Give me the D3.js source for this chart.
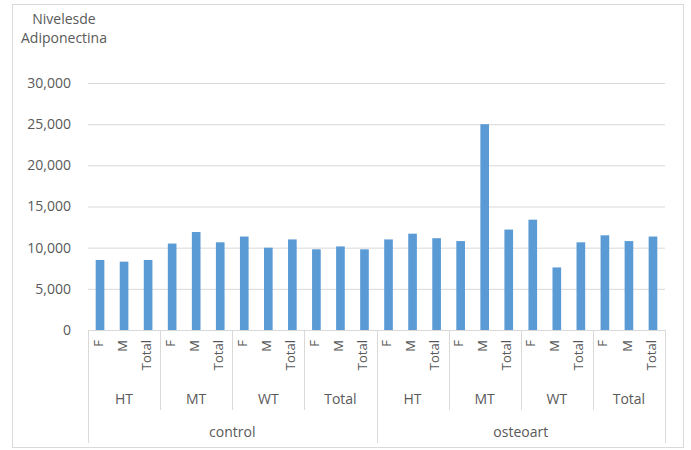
<!DOCTYPE html>
<html>
<head>
    <meta charset="UTF-8">
    <style>
        body { margin: 0; background: #fff; }
        text { font-family: "Open Sans", "Noto Sans", sans-serif; fill: #595959; }
    </style>
    <script src="https://d3js.org/d3.v7.min.js"></script>
</head>
<body>
    <svg id="chart" width="691" height="450"></svg>
    <script>
        // datos
        var grupos = ["control", "osteoart"];
        var tipos = ["HT", "MT", "WT", "Total"];
        var sexos = ["F", "M", "Total"];
        var valoresControl = [8500, 8300, 8500, 10500, 11900, 10650, 11350, 10000, 11000, 9800, 10150, 9800];
        var valoresOsteoart = [11000, 11700, 11150, 10800, 25000, 12200, 13400, 7600, 10650, 11500, 10800, 11350];
        var ticksY = [0, 5000, 10000, 15000, 20000, 25000, 30000];

        var data = [];
        grupos.forEach(function(g, gi) {
            var vals = gi == 0 ? valoresControl : valoresOsteoart;
            tipos.forEach(function(t, ti) {
                sexos.forEach(function(s, si) {
                    data.push({ grupo: g, tipo: t, sexo: s, key: g + "|" + t + "|" + s, valor: vals[ti * 3 + si] });
                });
            });
        });

        var svg = d3.select("#chart");
        var plotLeft = 88, plotRight = 665, plotTop = 83, plotBottom = 330;

        // borde del grafico
        svg.append("rect")
            .attr("x", 12.5).attr("y", 4.5)
            .attr("width", 671).attr("height", 443)
            .attr("fill", "#fff")
            .attr("stroke", "#d9d9d9");

        var x = d3.scaleBand().domain(data.map(function(d) { return d.key; }))
            .range([plotLeft, plotRight]).paddingInner(0.64).paddingOuter(0.32);
        var y = d3.scaleLinear().domain([0, 30000]).range([plotBottom, plotTop]);
        var step = x.step();

        // lineas de cuadricula
        svg.append("g")
            .attr("transform", "translate(" + plotLeft + ",0)")
            .call(d3.axisLeft(y).tickValues(ticksY).tickSize(-(plotRight - plotLeft)).tickFormat(""))
            .call(function(g) {
                g.select(".domain").remove();
                g.selectAll("line").attr("stroke", "#d9d9d9");
            });

        // etiquetas del eje Y
        svg.append("g").selectAll("text")
            .data(ticksY)
            .enter().append("text")
            .attr("x", 71)
            .attr("y", function(d) { return y(d); })
            .attr("dy", "0.35em")
            .attr("text-anchor", "end")
            .attr("font-size", "14px")
            .text(function(d) { return d3.format(",")(d); });

        // barras
        svg.append("g").selectAll("rect")
            .data(data)
            .enter().append("rect")
            .attr("x", function(d) { return x(d.key); })
            .attr("y", function(d) { return y(d.valor); })
            .attr("width", x.bandwidth())
            .attr("height", function(d) { return y(0) - y(d.valor); })
            .attr("fill", "#5b9bd5");

        // eje de categorias
        svg.append("line")
            .attr("x1", plotLeft).attr("x2", plotRight)
            .attr("y1", plotBottom + 0.5).attr("y2", plotBottom + 0.5)
            .attr("stroke", "#d9d9d9");

        // etiquetas F / M / Total
        svg.append("g").selectAll("text")
            .data(data)
            .enter().append("text")
            .attr("transform", function(d) {
                return "translate(" + (x(d.key) + x.bandwidth() / 2 - 2) + "," + (plotBottom + 10) + ") rotate(-90)";
            })
            .attr("dy", "0.35em")
            .attr("text-anchor", "end")
            .attr("font-size", "13px")
            .text(function(d) { return d.sexo; });

        // divisiones de tipo
        var tiposData = [];
        grupos.forEach(function(g) {
            tipos.forEach(function(t) { tiposData.push({ grupo: g, tipo: t, x0: x(g + "|" + t + "|F") - step * 0.32 }); });
        });
        svg.append("g").selectAll("line")
            .data(tiposData)
            .enter().append("line")
            .attr("x1", function(d) { return Math.round(d.x0) + 0.5; })
            .attr("x2", function(d) { return Math.round(d.x0) + 0.5; })
            .attr("y1", plotBottom).attr("y2", function(d) { return d.tipo == "HT" ? 443 : 410; })
            .attr("stroke", "#d9d9d9");
        svg.append("line")
            .attr("x1", plotRight + 0.5).attr("x2", plotRight + 0.5)
            .attr("y1", plotBottom).attr("y2", 443)
            .attr("stroke", "#d9d9d9");

        svg.append("g").selectAll("text")
            .data(tiposData)
            .enter().append("text")
            .attr("x", function(d) { return d.x0 + step * 1.5; })
            .attr("y", 404)
            .attr("text-anchor", "middle")
            .attr("font-size", "14px")
            .text(function(d) { return d.tipo; });

        // etiquetas de grupo
        svg.append("g").selectAll("text")
            .data(grupos)
            .enter().append("text")
            .attr("x", function(g) { return x(g + "|HT|F") - step * 0.32 + step * 6; })
            .attr("y", 437)
            .attr("text-anchor", "middle")
            .attr("font-size", "14px")
            .text(function(g) { return g; });

        // titulo del eje
        var titulo = svg.append("text")
            .attr("x", 64).attr("y", 24)
            .attr("text-anchor", "middle")
            .attr("font-size", "14px");
        titulo.append("tspan").attr("x", 64).text("Nivelesde");
        titulo.append("tspan").attr("x", 64).attr("dy", 19).text("Adiponectina");
    </script>
</body>
</html>
